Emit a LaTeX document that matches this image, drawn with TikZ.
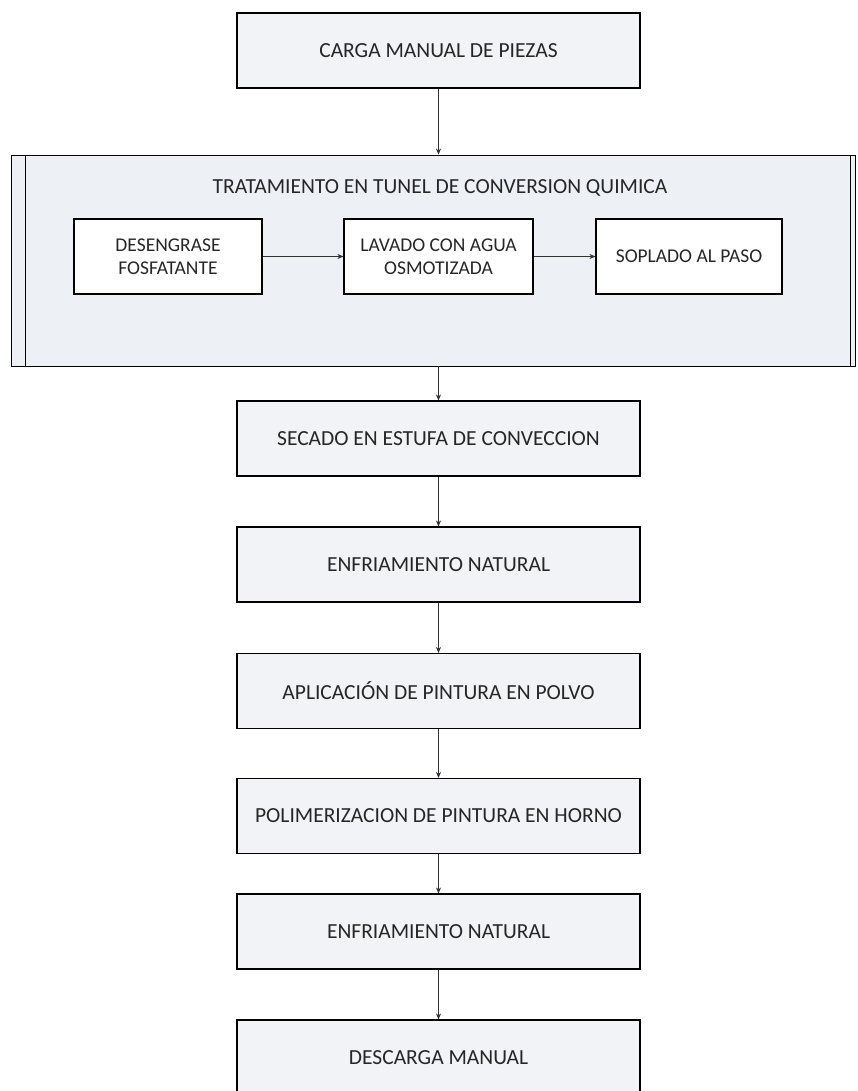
\documentclass[tikz,border=0pt]{standalone}
\usepackage{fontspec}
\setmainfont{Carlito}
\usetikzlibrary{arrows.meta,positioning}
\definecolor{fondo}{HTML}{F2F3F6}
\definecolor{fondotunel}{HTML}{EDF0F5}
\definecolor{texto}{HTML}{262626}

\begin{document}
\begin{tikzpicture}[x=1pt,y=-1pt,
    every node/.style={font=\fontsize{21.5}{24}\selectfont, text=texto},
    paso/.style={draw, line width=1.1pt, fill=fondo, minimum width=403pt, minimum height=75pt, inner sep=0pt},
    subpaso/.style={draw, line width=1.1pt, fill=white, minimum height=75pt, inner sep=0pt, align=center, font=\fontsize{19.5}{23}\selectfont},
    flecha/.style={draw=black!80, line width=0.6pt, -{Stealth[length=6pt,width=5pt]}}]
    \useasboundingbox (0,0) rectangle (857,1091);
    \fill[white] (0,0) rectangle (857,1091);
    % pasos principales
    \node[paso] (carga) at (438.5,50.5) {CARGA MANUAL DE PIEZAS};
    \node[draw, line width=0.9pt, fill=fondotunel, minimum width=844pt, minimum height=211pt, inner sep=0pt] (tunel) at (433,260.5) {};
    \draw[line width=0.9pt] ([xshift=15pt]tunel.north west) -- ([xshift=15pt]tunel.south west);
    \draw[line width=0.9pt] ([xshift=-5pt]tunel.north east) -- ([xshift=-5pt]tunel.south east);
    \node (titulo) at (440,188) {TRATAMIENTO EN TUNEL DE CONVERSION QUIMICA};
    \node[subpaso, minimum width=188pt] (desengrase) at (168,256.5) {DESENGRASE\\FOSFATANTE};
    \node[subpaso, minimum width=189pt] (lavado) at (438.5,256.5) {LAVADO CON AGUA\\OSMOTIZADA};
    \node[subpaso, minimum width=186pt] (soplado) at (689,256.5) {SOPLADO AL PASO};
    \node[paso] (secado) at (438.5,438.5) {SECADO EN ESTUFA DE CONVECCION};
    \node[paso] (enfriamiento1) at (438.5,564.5) {ENFRIAMIENTO NATURAL};
    \node[paso] (aplicacion) at (438.5,691) {APLICACIÓN DE PINTURA EN POLVO};
    \node[paso] (polimerizacion) at (438.5,816) {POLIMERIZACION DE PINTURA EN HORNO};
    \node[paso] (enfriamiento2) at (438.5,931.5) {ENFRIAMIENTO NATURAL};
    \node[paso] (descarga) at (438.5,1057.5) {DESCARGA MANUAL};
    % conectores
    \draw[flecha] (carga) -- (carga |- tunel.north);
    \draw[flecha] (desengrase) -- (lavado);
    \draw[flecha] (lavado) -- (soplado);
    \draw[flecha] (secado |- tunel.south) -- (secado);
    \draw[flecha] (secado) -- (enfriamiento1);
    \draw[flecha] (enfriamiento1) -- (aplicacion);
    \draw[flecha] (aplicacion) -- (polimerizacion);
    \draw[flecha] (polimerizacion) -- (enfriamiento2);
    \draw[flecha] (enfriamiento2) -- (descarga);
\end{tikzpicture}
\end{document}
